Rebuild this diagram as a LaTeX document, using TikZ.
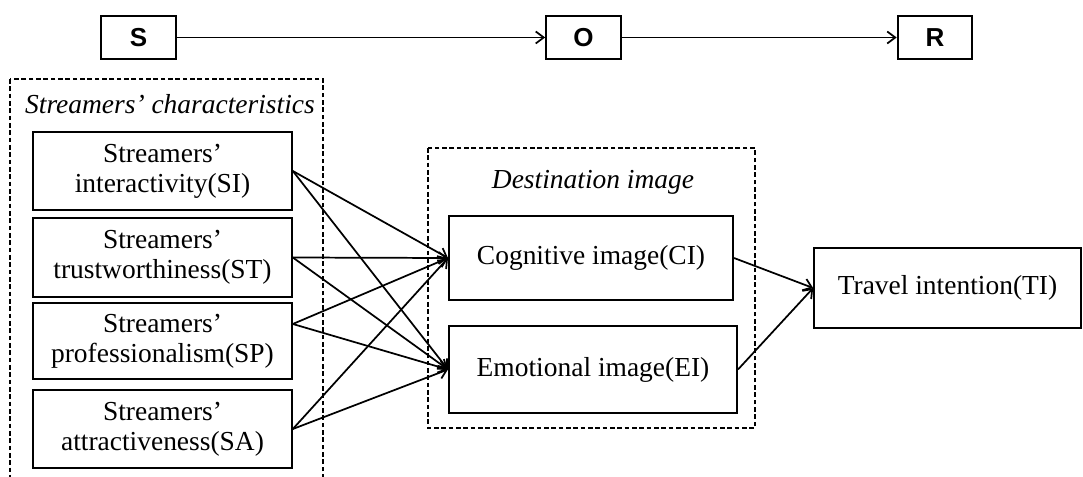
\documentclass[tikz,border=0pt]{standalone}
\usepackage{fontspec}
\setmainfont{Liberation Serif}
\newfontfamily\sorfont{Liberation Sans}
\usetikzlibrary{arrows.meta}

\begin{document}
\begin{tikzpicture}[
  x=0.75pt, y=-0.75pt,
  >={Straight Barb[length=6pt,width=9pt]},
  line width=1.3pt,
  every node/.style={font=\fontsize{20.6}{22.6}\selectfont},
  box/.style={draw, line width=1.5pt, align=center, inner sep=0pt},
  sor/.style={draw, line width=1.5pt, minimum width=56pt, minimum height=32pt, inner sep=0pt, font=\sorfont\bfseries\fontsize{19.5}{19.5}\selectfont},
  group/.style={draw, line width=1.2pt, dash pattern=on 3.5pt off 2pt},
  groupLabel/.style={font=\itshape\fontsize{20.6}{22.6}\selectfont}
]
\useasboundingbox (0,0) rectangle (1083,477);

% S-O-R line
\node[sor] (S) at (138.5,37.5) {S};
\node[sor] (O) at (583.5,37.5) {O};
\node[sor] (R) at (935,37.5) {R};
\draw[->] (S) -- (O);
\draw[->] (O) -- (R);

% groups
\draw[group] (10,79) rectangle (323,500);
\node[groupLabel] (charLabel) at (170,104) {Streamers’ characteristics};
\draw[group] (428,148) rectangle (755,428);
\node[groupLabel] (destLabel) at (593,182) {Destination image};

% streamers' characteristics
\node[box, minimum width=194pt, minimum height=58pt] (si) at (162.5,171) {Streamers’\\interactivity(SI)};
\node[box, minimum width=194pt, minimum height=59pt] (st) at (162.5,257.5) {Streamers’\\trustworthiness(ST)};
\node[box, minimum width=194pt, minimum height=57pt] (sp) at (162.5,341) {Streamers’\\professionalism(SP)};
\node[box, minimum width=194pt, minimum height=58pt] (sa) at (162.5,429) {Streamers’\\attractiveness(SA)};

% destination image and outcome
\node[box, minimum width=213pt, minimum height=63pt] (ci) at (591,258) {Cognitive image(CI)};
\node[box, minimum width=216pt, minimum height=65pt] (ei) at (593,369.5) {Emotional image(EI)};
\node[box, minimum width=200pt, minimum height=60pt] (ti) at (947.5,288) {Travel intention(TI)};

\foreach \src/\sh in {si/0pt, st/0pt, sp/12.75pt, sa/0pt} {
  \draw[->] ([yshift=\sh]\src.east) -- (ci.west);
  \draw[->] ([yshift=\sh]\src.east) -- (ei.west);
}
\draw[->] (ci.east) -- (ti.west);
\draw[->] (ei.east) -- (ti.west);
\end{tikzpicture}
\end{document}
